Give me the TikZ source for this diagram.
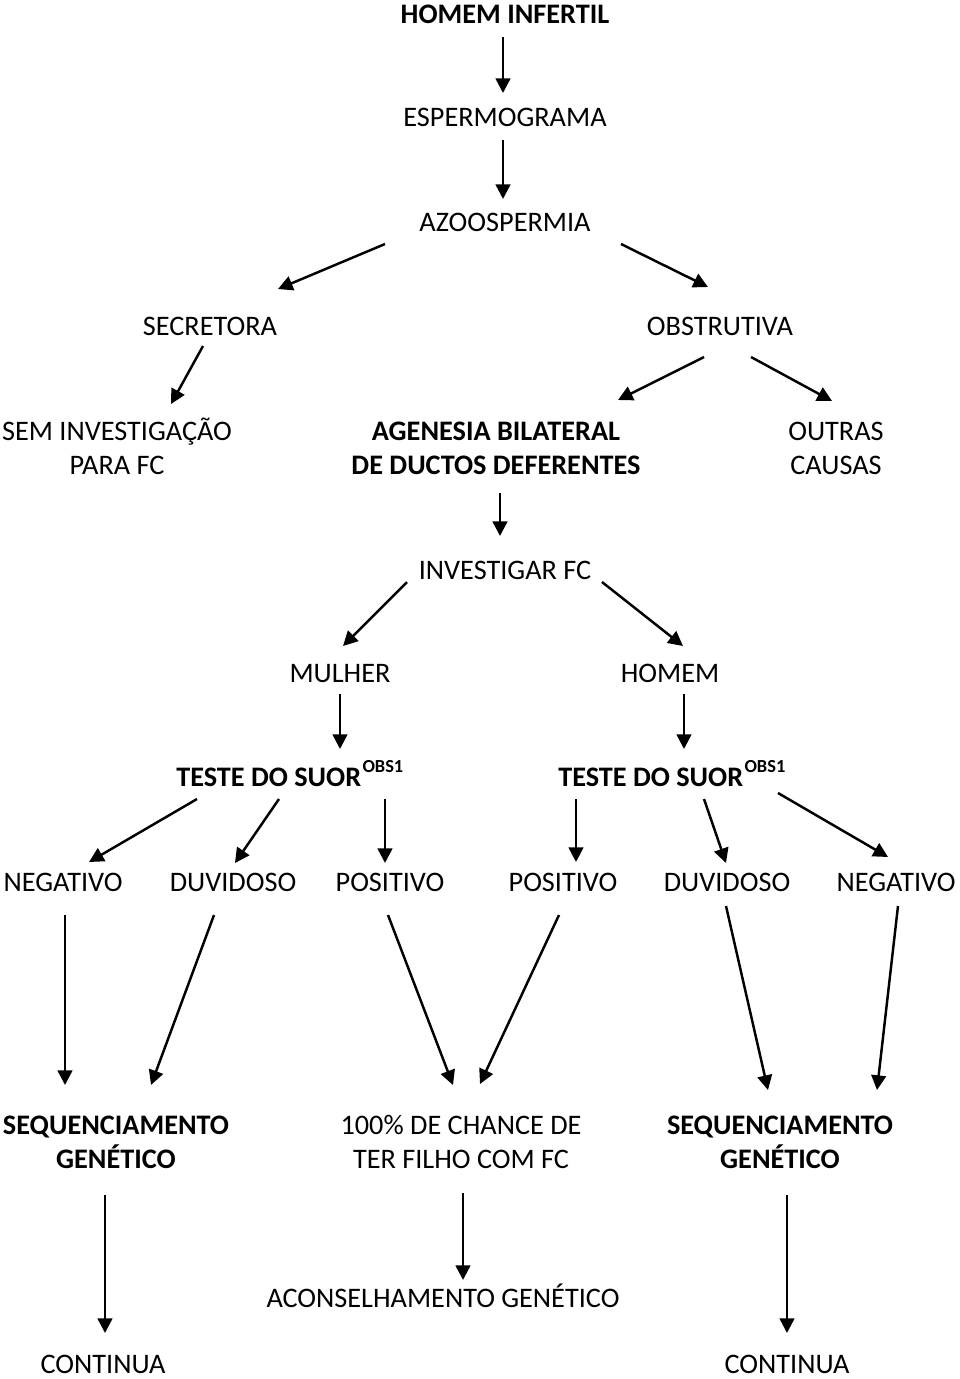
\documentclass[tikz,border=0pt]{standalone}
\usepackage{fontspec}
\setmainfont{Carlito}
\usetikzlibrary{arrows.meta}
\tikzset{
  lbl/.style={anchor=base, inner sep=0pt, align=center, font=\fontsize{21.2}{25.5}\selectfont},
  blbl/.style={lbl, font=\fontsize{21.2}{25.5}\selectfont\bfseries},
  arr/.style={line width=1.85pt, -{Triangle[length=11pt,width=11pt]}}
}
\newcommand{\obsmark}{\hspace{1pt}\raisebox{10.5pt}{\fontsize{13.8}{15}\selectfont\bfseries OBS1}}
\begin{document}
\begin{tikzpicture}[x=0.75pt,y=-0.75pt]
\useasboundingbox (0,0) rectangle (960,1379);
% nodes (two-line nodes are placed by the baseline of their last line)
\node[blbl] (hi) at (505,23) {HOMEM INFERTIL};
\node[lbl] (esp) at (505,126) {ESPERMOGRAMA};
\node[lbl] (azo) at (505,231) {AZOOSPERMIA};
\node[lbl] (sec) at (210,335) {SECRETORA};
\node[lbl] (obs) at (720,335) {OBSTRUTIVA};
\node[lbl] (sem) at (117,474) {SEM INVESTIGAÇÃO\\PARA FC};
\node[blbl] (age) at (496,474) {AGENESIA BILATERAL\\DE DUCTOS DEFERENTES};
\node[lbl] (out) at (836,474) {OUTRAS\\CAUSAS};
\node[lbl] (inv) at (505,579) {INVESTIGAR FC};
\node[lbl] (mul) at (340,682) {MULHER};
\node[lbl] (hom) at (670,682) {HOMEM};
\node[blbl, anchor=base west] (tl) at (176,786) {TESTE DO SUOR\obsmark};
\node[blbl, anchor=base west] (tr) at (558,786) {TESTE DO SUOR\obsmark};
\node[lbl] (negl) at (63,891) {NEGATIVO};
\node[lbl] (duvl) at (233,891) {DUVIDOSO};
\node[lbl] (posl) at (390,891) {POSITIVO};
\node[lbl] (posr) at (563,891) {POSITIVO};
\node[lbl] (duvr) at (727,891) {DUVIDOSO};
\node[lbl] (negr) at (896,891) {NEGATIVO};
\node[blbl] (seql) at (116,1168) {SEQUENCIAMENTO\\GENÉTICO};
\node[lbl] (chc) at (461,1168) {100\% DE CHANCE DE\\TER FILHO COM FC};
\node[blbl] (seqr) at (780,1168) {SEQUENCIAMENTO\\GENÉTICO};
\node[lbl] (acon) at (443,1307) {ACONSELHAMENTO GENÉTICO};
\node[lbl] (contl) at (103,1373) {CONTINUA};
\node[lbl] (contr) at (787,1373) {CONTINUA};
% connector end points
\coordinate (a1s) at (503,37);  \coordinate (a1e) at (503,93);
\coordinate (a2s) at (503,140); \coordinate (a2e) at (503,199);
\coordinate (a3s) at (385,244); \coordinate (a3e) at (278,289);
\coordinate (a4s) at (621,244); \coordinate (a4e) at (708,287);
\coordinate (a5s) at (203,346); \coordinate (a5e) at (171,404);
\coordinate (a6s) at (704,357); \coordinate (a6e) at (618,400);
\coordinate (a7s) at (751,357); \coordinate (a7e) at (832,401);
\coordinate (a8s) at (500,493); \coordinate (a8e) at (500,536);
\coordinate (a9s) at (407,582); \coordinate (a9e) at (343,646);
\coordinate (a10s) at (602,582); \coordinate (a10e) at (683,646);
\coordinate (a11s) at (340,694); \coordinate (a11e) at (340,749);
\coordinate (a12s) at (684,694); \coordinate (a12e) at (684,749);
\coordinate (a13s) at (197,799); \coordinate (a13e) at (89,862);
\coordinate (a14s) at (279,799); \coordinate (a14e) at (235,863);
\coordinate (a15s) at (385,799); \coordinate (a15e) at (385,863);
\coordinate (a16s) at (576,799); \coordinate (a16e) at (576,862);
\coordinate (a17s) at (704,799); \coordinate (a17e) at (726,863);
\coordinate (a18s) at (778,793); \coordinate (a18e) at (888,857);
\coordinate (a19s) at (65,915);  \coordinate (a19e) at (65,1085);
\coordinate (a20s) at (214,915); \coordinate (a20e) at (151,1085);
\coordinate (a21s) at (388,915); \coordinate (a21e) at (453,1085);
\coordinate (a22s) at (559,915); \coordinate (a22e) at (480,1084);
\coordinate (a23s) at (726,906); \coordinate (a23e) at (768,1090);
\coordinate (a24s) at (898,906); \coordinate (a24e) at (877,1090);
\coordinate (a25s) at (105,1195); \coordinate (a25e) at (105,1333);
\coordinate (a26s) at (463,1193); \coordinate (a26e) at (463,1280);
\coordinate (a27s) at (787,1195); \coordinate (a27e) at (787,1333);
% connectors
\foreach \i in {1,...,27} \draw[arr] (a\i s) -- (a\i e);
\end{tikzpicture}
\end{document}
